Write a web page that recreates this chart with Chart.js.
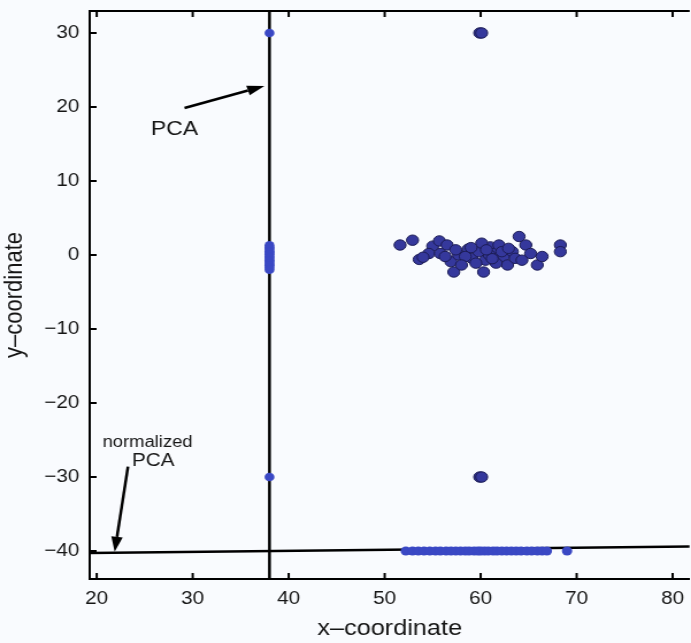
<!DOCTYPE html>
<html>
<head>
<meta charset="utf-8">
<script src="https://cdn.jsdelivr.net/npm/chart.js@4.4.1/dist/chart.umd.min.js"></script>
<style>
  html, body { margin: 0; padding: 0; background: #f9fbfe; overflow: hidden; }
  /* the source figure is a little wider than tall, so stretch the canvas sideways;
     the plot runs off the right edge of the picture */
  #wrap { width: 606px; height: 643px; transform: scaleX(1.1498); transform-origin: 0 0; }
</style>
</head>
<body>
<div id="wrap"><canvas id="myChart" width="606" height="643"></canvas></div>
<script>
// tick labels
var xTicks = [20, 30, 40, 50, 60, 70, 80];
var yTicks = [-40, -30, -20, -10, 0, 10, 20, 30];

// original 2-d points (the cluster)
var clusterX = [51.6, 52.9, 55.0, 55.7, 56.5, 53.6, 54.6, 55.8, 56.9, 57.2, 57.7, 58.7, 59.1, 59.8, 60.3,
  60.5, 61.0, 61.4, 61.9, 62.4, 62.8, 63.3, 64.0, 64.7, 65.2, 65.9, 66.4, 68.3, 68.3, 58.4,
  59.5, 61.6, 57.4, 60.1, 63.6, 64.3, 56.3, 58.0, 62.2, 60.9, 54.0, 59.0, 62.9, 61.2, 60.6];
var clusterY = [1.35, 2.0, 1.2, 1.9, 1.35, -0.6, 0.2, 0.2, -0.9, -2.3, 0.0, 0.8, -0.45, 0.45, -2.3,
  -0.7, 1.1, 0.2, 1.35, -0.2, -1.35, 0.45, 2.5, 1.35, 0.2, -1.35, -0.2, 1.35, 0.45, -0.2,
  -1.1, -1.1, 0.7, 1.6, -0.45, -0.7, -0.2, -1.35, 0.45, 0.0, -0.3, 1.0, 0.9, -0.5, 0.7];

// the two outliers (each drawn twice, slightly apart)
var outlierX = [59.9, 60.1, 59.9, 60.1];
var outlierY = [30, 30, -30, -30];

// projection on the PCA line (vertical, x = 38)
var pcaX = 38;
var pcaProjY = [30, -30, 1.3, 1.0, 0.8, 0.5, 0.3, 0.1, -0.2, -0.4, -0.7, -0.9, -1.2, -1.4, -1.7, -2.0];

// projection on the normalized PCA line (near y = -40)
var normProjY = -40;
var normProjX = [52.2, 52.9, 53.5, 54.1, 54.7, 55.3, 55.8, 56.4, 56.9, 57.4, 57.9, 58.4, 58.8, 59.3, 59.7,
  60.0, 60.4, 60.8, 61.3, 61.7, 62.2, 62.7, 63.2, 63.7, 64.2, 64.8, 65.3, 65.9, 66.4, 66.9, 69.0];

// axis ranges
var xMin = 19.27, xMax = 81.77;
var yMin = -43.78, yMax = 32.97;

// the two lines
var pcaLineX = [pcaX, pcaX];
var pcaLineY = [yMin, yMax];
var normLineX = [xMin, xMax];
var normLineY = [-40.27, -39.39];

// annotations, in data units
var notes = [
  { text: "PCA", x: 28.1, y: 16.9, size: 20 },
  { text: "normalized", x: 25.3, y: -25.4, size: 16 },
  { text: "PCA", x: 25.9, y: -27.9, size: 18 }
];
var arrows = [
  { x0: 29.15, y0: 19.86, x1: 37.47, y1: 22.84 },
  { x0: 23.26, y0: -28.6, x1: 21.87, y1: -40.1 }
];

function pts(xs, ys) {
  return xs.map(function (x, i) { return { x: x, y: ys[i] }; });
}

var frame = {
  id: "frame",
  afterDraw: function (chart) {
    var ctx = chart.ctx;
    var a = chart.chartArea;
    var sx = chart.scales.x, sy = chart.scales.y;
    ctx.save();
    ctx.strokeStyle = "#000";
    ctx.lineWidth = 2;
    ctx.beginPath();
    ctx.moveTo(a.left, a.top);
    ctx.lineTo(a.right, a.top);
    // inward tick marks
    xTicks.forEach(function (v) {
      var p = sx.getPixelForValue(v);
      ctx.moveTo(p, a.bottom);
      ctx.lineTo(p, a.bottom - 6);
      ctx.moveTo(p, a.top);
      ctx.lineTo(p, a.top + 6);
    });
    yTicks.forEach(function (v) {
      var p = sy.getPixelForValue(v);
      ctx.moveTo(a.left, p);
      ctx.lineTo(a.left + 6, p);
    });
    ctx.stroke();

    // text notes
    ctx.fillStyle = "#151515";
    ctx.textAlign = "center";
    ctx.textBaseline = "middle";
    notes.forEach(function (n) {
      ctx.font = n.size + "px 'Liberation Sans', Arial, sans-serif";
      ctx.fillText(n.text, sx.getPixelForValue(n.x), sy.getPixelForValue(n.y));
    });

    // arrows
    arrows.forEach(function (r) {
      var x0 = sx.getPixelForValue(r.x0), y0 = sy.getPixelForValue(r.y0);
      var x1 = sx.getPixelForValue(r.x1), y1 = sy.getPixelForValue(r.y1);
      var ang = Math.atan2(y1 - y0, x1 - x0);
      var len = 15, half = 5;
      var bx = x1 - len * Math.cos(ang), by = y1 - len * Math.sin(ang);
      ctx.lineWidth = 2.5;
      ctx.beginPath();
      ctx.moveTo(x0, y0);
      ctx.lineTo(bx, by);
      ctx.stroke();
      ctx.fillStyle = "#000";
      ctx.beginPath();
      ctx.moveTo(x1, y1);
      ctx.lineTo(bx + half * Math.sin(ang), by - half * Math.cos(ang));
      ctx.lineTo(bx - half * Math.sin(ang), by + half * Math.cos(ang));
      ctx.closePath();
      ctx.fill();
    });
    ctx.restore();
  }
};

var tickFont = { family: "'Liberation Sans', Arial, sans-serif", size: 18 };
var titleFont = { family: "'Liberation Sans', Arial, sans-serif", size: 22 };

function minus(v) {
  return v < 0 ? "\u2212" + Math.abs(v) : String(v);
}

var ctx = document.getElementById("myChart").getContext("2d");
var myChart = new Chart(ctx, {
  type: "scatter",
  data: {
    datasets: [
      {
        label: "PCA",
        type: "line",
        data: pts(pcaLineX, pcaLineY),
        borderColor: "#000",
        borderWidth: 2.5,
        pointRadius: 0,
        order: 3
      },
      {
        label: "normalized PCA",
        type: "line",
        data: pts(normLineX, normLineY),
        borderColor: "#000",
        borderWidth: 2.5,
        pointRadius: 0,
        order: 3
      },
      {
        label: "projection on PCA",
        data: pcaProjY.map(function (y) { return { x: pcaX, y: y }; }),
        backgroundColor: "#3a48c4",
        borderWidth: 0,
        pointRadius: 4.3,
        order: 2
      },
      {
        label: "projection on normalized PCA",
        data: normProjX.map(function (x) { return { x: x, y: normProjY }; }),
        backgroundColor: "#3a48c4",
        borderWidth: 0,
        pointRadius: 4.5,
        order: 2
      },
      {
        label: "data",
        data: pts(clusterX, clusterY).concat(pts(outlierX, outlierY)),
        backgroundColor: "#35389c",
        borderColor: "#1c1c55",
        borderWidth: 1,
        pointRadius: 5.2,
        order: 1
      }
    ]
  },
  options: {
    responsive: false,
    animation: false,
    events: [],
    layout: { padding: { top: 11, right: 0, left: 0, bottom: 0 } },
    plugins: { legend: { display: false }, tooltip: { enabled: false } },
    scales: {
      x: {
        type: "linear",
        min: xMin,
        max: xMax,
        afterBuildTicks: function (s) { s.ticks = xTicks.map(function (v) { return { value: v }; }); },
        afterFit: function (s) { s.height = 64; s.paddingLeft = 0; s.paddingRight = 0; },
        grid: { display: true, drawOnChartArea: false, drawTicks: false },
        border: { display: true, color: "#000", width: 2 },
        ticks: { color: "#151515", font: tickFont, padding: 9, maxRotation: 0, callback: minus },
        title: { display: true, text: "x–coordinate", color: "#151515", font: titleFont, padding: { top: 0, bottom: 1 } }
      },
      y: {
        type: "linear",
        min: yMin,
        max: yMax,
        afterBuildTicks: function (s) { s.ticks = yTicks.map(function (v) { return { value: v }; }); },
        afterFit: function (s) { s.width = 78; s.paddingTop = 0; s.paddingBottom = 0; },
        grid: { display: true, drawOnChartArea: false, drawTicks: false },
        border: { display: true, color: "#000", width: 2 },
        ticks: { color: "#151515", font: tickFont, padding: 9, callback: minus },
        title: { display: true, text: "y–coordinate", color: "#151515", font: titleFont, padding: { top: 0, bottom: 0 } }
      }
    }
  },
  plugins: [frame]
});
</script>
</body>
</html>
